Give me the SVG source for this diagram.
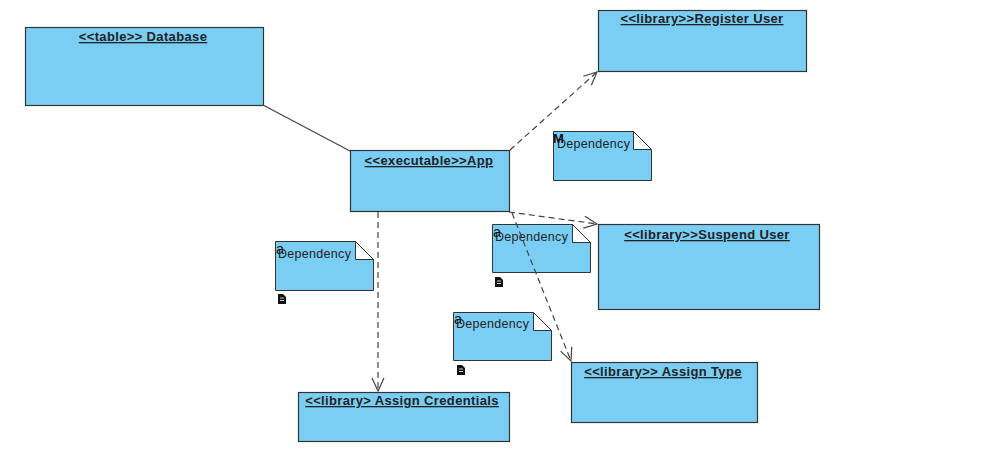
<svg xmlns="http://www.w3.org/2000/svg" width="998" height="473" viewBox="0 0 998 473">
<style>
.cls{fill:#7acef4;stroke:#333;stroke-width:1.2}
.t{font-family:"Liberation Sans",Arial,sans-serif;font-size:13px;letter-spacing:0.35px;font-weight:bold;fill:#222;text-decoration:underline;text-anchor:middle}
.note{fill:#7acef4;stroke:#333;stroke-width:1}
.fold{fill:#fff;stroke:#333;stroke-width:1}
.nt{font-family:"Liberation Sans",Arial,sans-serif;font-size:12.5px;letter-spacing:0.3px;fill:#222}
.lab{font-family:"Liberation Sans",Arial,sans-serif;font-size:13px;font-weight:bold;fill:#111}
.la{font-family:"Liberation Sans",Arial,sans-serif;font-size:14.5px;fill:#111}
.dash{fill:none;stroke:#444;stroke-width:1.2;stroke-dasharray:6,4}
.solid{fill:none;stroke:#444;stroke-width:1.2}
.ico{fill:#111}
</style>
<defs>
<marker id="open" markerWidth="16" markerHeight="16" refX="14" refY="8" orient="auto" markerUnits="userSpaceOnUse">
<path d="M1,2 L14,8 L1,14" fill="none" stroke="#444" stroke-width="1.2"/>
</marker>
</defs>
<rect width="998" height="473" fill="#fff"/>
<g id="database">
<rect class="cls" x="25.5" y="27.5" width="238" height="78"/>
<text class="t" x="143" y="41">&lt;&lt;table&gt;&gt; Database</text>
</g>
<g id="register-user">
<rect class="cls" x="598.5" y="10.5" width="208" height="61"/>
<text class="t" x="702" y="23">&lt;&lt;library&gt;&gt;Register User</text>
</g>
<g id="app">
<rect class="cls" x="350.5" y="150.5" width="159" height="61"/>
<text class="t" x="429" y="165">&lt;&lt;executable&gt;&gt;App</text>
</g>
<g id="suspend-user">
<rect class="cls" x="598.5" y="224.5" width="221" height="85"/>
<text class="t" x="707" y="239">&lt;&lt;library&gt;&gt;Suspend User</text>
</g>
<g id="assign-type">
<rect class="cls" x="571.5" y="362.5" width="186" height="60"/>
<text class="t" x="663" y="376">&lt;&lt;library&gt;&gt; Assign Type</text>
</g>
<g id="assign-credentials">
<rect class="cls" x="298.5" y="392.5" width="211" height="49"/>
<text class="t" x="402" y="405">&lt;&lt;library&gt; Assign Credentials</text>
</g>
<g id="note-register">
<path class="note" d="M553.5,131.5 H633.5 L651.5,149.5 V180.5 H553.5 Z"/>
<path class="fold" d="M633.5,131.5 V149.5 H651.5 Z"/>
<text class="nt" x="557" y="148">Dependency</text>
<text class="lab" x="553" y="143">M</text>
</g>
<g id="note-suspend">
<path class="note" d="M492.5,224.5 H572.5 L590.5,242.5 V272.5 H492.5 Z"/>
<path class="fold" d="M572.5,224.5 V242.5 H590.5 Z"/>
<text class="nt" x="495" y="241">Dependency</text>
<text class="la" x="493" y="237">a</text>
<path class="ico" d="M495,277 h5 l3,3 v7 h-8 Z"/>
<path d="M497,281 h4 M497,283.5 h4" stroke="#fff" stroke-width="0.8"/>
</g>
<g id="note-credentials">
<path class="note" d="M275.5,241.5 H355.5 L373.5,259.5 V290.5 H275.5 Z"/>
<path class="fold" d="M355.5,241.5 V259.5 H373.5 Z"/>
<text class="nt" x="278" y="258">Dependency</text>
<text class="la" x="276" y="254">a</text>
<path class="ico" d="M278,294 h5 l3,3 v7 h-8 Z"/>
<path d="M280,298 h4 M280,300.5 h4" stroke="#fff" stroke-width="0.8"/>
</g>
<g id="note-type">
<path class="note" d="M453.5,312.5 H533.5 L551.5,330.5 V360.5 H453.5 Z"/>
<path class="fold" d="M533.5,312.5 V330.5 H551.5 Z"/>
<text class="nt" x="456" y="328">Dependency</text>
<text class="la" x="454" y="324">a</text>
<path class="ico" d="M457,365 h5 l3,3 v7 h-8 Z"/>
<path d="M459,369 h4 M459,371.5 h4" stroke="#fff" stroke-width="0.8"/>
</g>
<g id="connectors">
<line class="solid" x1="263" y1="105" x2="350" y2="151"/>
<line class="dash" x1="510" y1="150" x2="597" y2="72" marker-end="url(#open)"/>
<line class="dash" x1="509" y1="212" x2="597" y2="224" marker-end="url(#open)"/>
<line class="dash" x1="512" y1="213" x2="571" y2="361" marker-end="url(#open)"/>
<line class="dash" x1="378" y1="212" x2="378" y2="391" marker-end="url(#open)"/>
</g>
</svg>
